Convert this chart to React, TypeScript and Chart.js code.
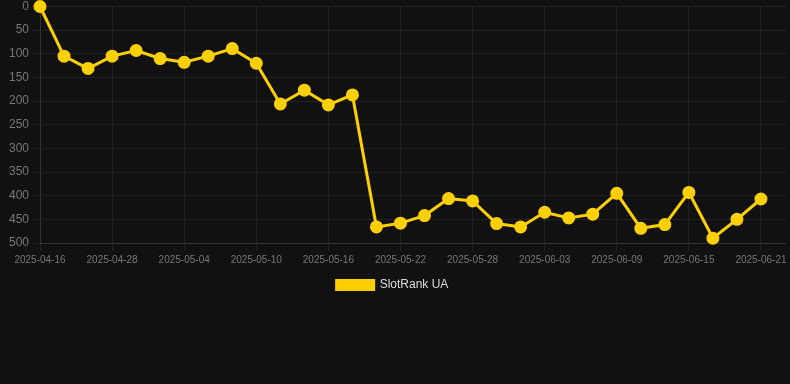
import React, { useEffect, useRef } from "react";
import { Chart, registerables } from "chart.js";

Chart.register(...registerables);

const categories: string[] = [
  "2025-04-16", "2025-04-20", "2025-04-24", "2025-04-28", "2025-04-30",
  "2025-05-02", "2025-05-04", "2025-05-06", "2025-05-08", "2025-05-10",
  "2025-05-12", "2025-05-14", "2025-05-16", "2025-05-18", "2025-05-20",
  "2025-05-22", "2025-05-24", "2025-05-26", "2025-05-28", "2025-05-30",
  "2025-06-01", "2025-06-03", "2025-06-05", "2025-06-07", "2025-06-09",
  "2025-06-11", "2025-06-13", "2025-06-15", "2025-06-17", "2025-06-19",
  "2025-06-21", "2025-06-23",
];

const slotRankUA: (number | null)[] = [
  0, 105, 131, 105, 93, 110, 118, 105, 89, 120,
  206, 177, 208, 187, 466, 458, 442, 406, 411, 459,
  466, 435, 447, 439, 395, 469, 461, 393, 490, 450,
  407, null,
];

const yTicks = { min: 0, max: 500, step: 50 };

export default function App() {
  const ref = useRef<HTMLCanvasElement | null>(null);

  useEffect(() => {
    document.body.style.margin = "0";
    document.body.style.background = "#111111";
    if (!ref.current) return;
    const chart = new Chart(ref.current, {
      type: "line",
      data: {
        labels: categories,
        datasets: [
          {
            label: "SlotRank UA",
            data: slotRankUA,
            borderColor: "#FFD000",
            backgroundColor: "#FFD000",
            pointBackgroundColor: "#FFD000",
            pointBorderColor: "#FFD000",
            borderWidth: 3,
            pointRadius: 5,
            tension: 0,
            clip: 10,
          },
        ],
      },
      options: {
        animation: false,
        responsive: true,
        maintainAspectRatio: false,
        layout: { autoPadding: false, padding: { left: 0, right: 5, top: 0 } },
        plugins: {
          legend: {
            position: "bottom",
            labels: {
              color: "#dddddd",
              font: { size: 12 },
              boxWidth: 37,
              boxHeight: 9,
            },
          },
          tooltip: { enabled: false },
        },
        scales: {
          x: {
            afterFit: (s: any) => {
              s.paddingRight = 0;
            },
            grid: { color: "rgba(255,255,255,0.07)" },
            border: { color: "rgba(255,255,255,0.09)" },
            ticks: {
              color: "#777777",
              font: { size: 10 },
              autoSkip: false,
              maxRotation: 0,
              callback: (_v: any, i: number) => (i % 3 === 0 ? categories[i] : null),
            },
          },
          y: {
            afterFit: (s: any) => {
              s.width = 40;
              s.paddingTop = 6.5;
            },
            reverse: true,
            min: yTicks.min,
            max: yTicks.max,
            grid: { color: "rgba(255,255,255,0.07)" },
            border: { color: "rgba(255,255,255,0.07)" },
            ticks: {
              color: "#777777",
              font: { size: 12 },
              stepSize: yTicks.step,
            },
          },
        },
      },
    });
    return () => chart.destroy();
  }, []);

  return (
    <div style={{ width: 790, height: 301, background: "#111111" }}>
      <canvas ref={ref} />
    </div>
  );
}
